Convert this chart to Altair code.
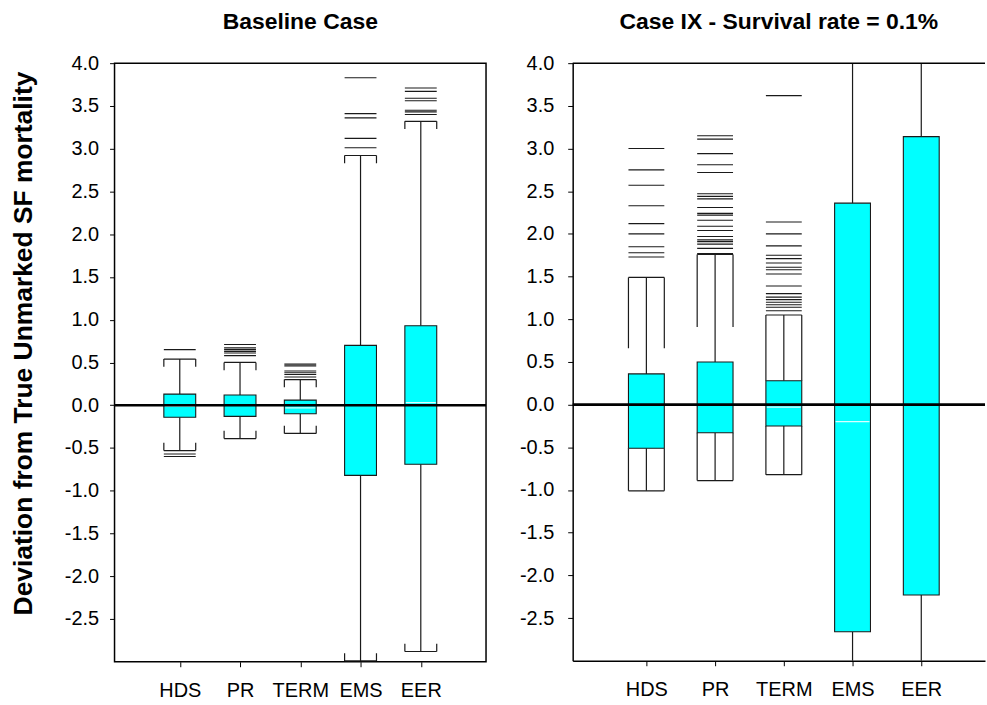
import json
import altair as alt
import pandas as pd

# ---- data -------------------------------------------------------------
categories = ["HDS", "PR", "TERM", "EMS", "EER"]

y_tick_values = [-2.5, -2.0, -1.5, -1.0, -0.5, 0.0, 0.5, 1.0, 1.5, 2.0, 2.5, 3.0, 3.5, 4.0]
y_domain = [-3.0, 4.0]
reference_value = [0.0]

# Baseline case
base_q1 = [-0.14, -0.13, -0.10, -0.82, -0.69]
base_q3 = [0.13, 0.12, 0.06, 0.70, 0.93]
base_median = [-0.01, 0.00, -0.03, 0.00, 0.03]
base_whisker_lo = [-0.53, -0.39, -0.33, -2.99, -2.88]
base_whisker_hi = [0.54, 0.50, 0.30, 2.92, 3.32]
base_bracket_lo = [-0.44, -0.30, -0.24, -2.90, -2.79]
base_bracket_hi = [0.45, 0.41, 0.21, 2.83, 3.23]
base_outliers = {
    "HDS": [0.65, -0.57, -0.60],
    "PR": [0.71, 0.67, 0.65, 0.63, 0.61, 0.58],
    "TERM": [0.48, 0.46, 0.40, 0.38, 0.36, 0.33],
    "EMS": [3.83, 3.41, 3.36, 3.12, 3.01],
    "EER": [3.71, 3.67, 3.59, 3.56, 3.45, 3.43, 3.40],
}

# Case IX - survival rate 0.1%
case9_q1 = [-0.51, -0.33, -0.25, -2.66, -2.23]
case9_q3 = [0.36, 0.50, 0.28, 2.36, 3.14]
case9_median = [0.00, 0.00, -0.03, -0.20, 0.00]
case9_whisker_lo = [-1.01, -0.89, -0.82, -3.40, -3.40]
case9_whisker_hi = [1.49, 1.76, 1.05, 4.40, 4.40]
case9_bracket_lo = [-0.51, -0.33, -0.25, -3.40, -3.40]
case9_bracket_hi = [0.66, 0.91, 0.28, 4.40, 4.40]
case9_outliers = {
    "HDS": [3.00, 2.75, 2.57, 2.33, 2.12, 2.00, 1.85, 1.78, 1.73],
    "PR": [3.15, 3.11, 2.94, 2.81, 2.72, 2.47, 2.44, 2.41, 2.31, 2.24,
           2.22, 2.16, 2.09, 2.04, 1.97, 1.93, 1.91, 1.88, 1.83, 1.77],
    "TERM": [3.62, 2.14, 2.00, 1.86, 1.75, 1.71, 1.66, 1.61, 1.58, 1.53,
             1.39, 1.30, 1.26, 1.23, 1.20, 1.17, 1.14, 1.10],
    "EMS": [],
    "EER": [],
}

FONT = "Liberation Sans"
BOX_FILL = "#00FFFF"
INK = "#1a1a1a"


def panel(title, q1, q3, med, wlo, whi, blo, bhi, outliers,
          plot_w, plot_h, x_max, box_w, y_title, framed, label_pad_y):
    pos = list(range(1, len(categories) + 1))
    stats = pd.DataFrame({
        "pos": pos, "cat": categories, "q1": q1, "q3": q3, "med": med,
        "wlo": wlo, "whi": whi, "blo": blo, "bhi": bhi,
    })
    out_rows = [
        {"pos": pos[categories.index(c)], "val": v}
        for c in categories for v in outliers.get(c, [])
    ]
    out_df = pd.DataFrame(out_rows, columns=["pos", "val"])
    ref_df = pd.DataFrame({"ref": reference_value})

    label_expr = f"{json.dumps(categories)}[datum.value - 1]"
    x_scale = alt.Scale(domain=[0, x_max], nice=False, zero=False)
    y_scale = alt.Scale(domain=y_domain, nice=False, zero=False)

    x_axis = alt.Axis(
        values=pos, labelExpr=label_expr, title=None, grid=False,
        domain=not framed, domainColor="black", domainWidth=1.5,
        tickSize=5, tickColor="black", tickWidth=1,
        labelFontSize=20, labelColor="black", labelFont=FONT, labelPadding=14,
    )
    y_axis_kwargs = dict(
        values=y_tick_values,
        labelExpr="replace(format(datum.value, '.1f'), '\u2212', '-')",
        grid=False, domain=not framed, domainColor="black", domainWidth=1.5,
        tickSize=5, tickColor="black", tickWidth=1,
        labelFontSize=20, labelColor="black", labelFont=FONT,
        labelPadding=label_pad_y,
    )
    if y_title:
        y_axis = alt.Axis(title=y_title, titleFontSize=26.5, titleFont=FONT,
                          titleFontWeight="bold", titleColor="black",
                          titlePadding=27, titleY=281, **y_axis_kwargs)
    else:
        y_axis = alt.Axis(title=None, **y_axis_kwargs)

    def X():
        return alt.X("pos:Q", scale=x_scale, axis=x_axis)

    def Y(field):
        return alt.Y(f"{field}:Q", scale=y_scale, axis=y_axis)

    base = alt.Chart(stats)
    half = box_w / 2.0

    whisker_lo = base.mark_rule(color=INK, strokeWidth=1.2, clip=True).encode(
        x=X(), y=Y("wlo"), y2="q1")
    whisker_hi = base.mark_rule(color=INK, strokeWidth=1.2, clip=True).encode(
        x=X(), y=Y("q3"), y2="whi")

    brackets = []
    for off in (-half, half):
        brackets.append(base.mark_rule(color=INK, strokeWidth=1.2, xOffset=off, clip=True)
                        .encode(x=X(), y=Y("wlo"), y2="blo"))
        brackets.append(base.mark_rule(color=INK, strokeWidth=1.2, xOffset=off, clip=True)
                        .encode(x=X(), y=Y("bhi"), y2="whi"))

    cap_lo = base.mark_tick(orient="horizontal", size=box_w, thickness=1.2,
                            color=INK, opacity=1, clip=True).encode(x=X(), y=Y("wlo"))
    cap_hi = base.mark_tick(orient="horizontal", size=box_w, thickness=1.2,
                            color=INK, opacity=1, clip=True).encode(x=X(), y=Y("whi"))

    outlier_marks = alt.Chart(out_df).mark_tick(
        orient="horizontal", size=box_w, thickness=1.1, color=INK, opacity=1, clip=True
    ).encode(x=X(), y=Y("val"))

    boxes = base.mark_bar(width=box_w, fill=BOX_FILL, stroke=INK, strokeWidth=1.1,
                          clip=True).encode(x=X(), y=Y("q1"), y2="q3")
    medians = base.mark_tick(orient="horizontal", size=box_w - 2, thickness=1.3,
                             color="#d9ffff", opacity=1, clip=True).encode(x=X(), y=Y("med"))

    zero_line = alt.Chart(ref_df).mark_rule(color="black", strokeWidth=2.6).encode(y=Y("ref"))

    layers = [whisker_lo, whisker_hi, *brackets, cap_lo, cap_hi, outlier_marks,
              boxes, medians, zero_line]
    if not framed:
        # top edge of the plot frame (the right edge runs off the page)
        top_edge = alt.Chart(ref_df).mark_rule(color="black", strokeWidth=1.5).encode(
            y=alt.value(0))
        layers.append(top_edge)

    chart = alt.layer(*layers).properties(
        width=plot_w, height=plot_h,
        title=alt.TitleParams(title, fontSize=23, font=FONT, fontWeight="bold",
                              color="black", anchor="middle", offset=19),
    )
    if framed:
        chart = chart.properties(view=alt.ViewBackground(stroke="black", strokeWidth=1.5))
    return chart


left = panel("Baseline Case", base_q1, base_q3, base_median, base_whisker_lo,
             base_whisker_hi, base_bracket_lo, base_bracket_hi, base_outliers,
             plot_w=373, plot_h=601, x_max=6.0, box_w=32,
             y_title="Deviation from True Unmarked SF mortality", framed=True,
             label_pad_y=11)
right = panel("Case IX - Survival rate = 0.1%", case9_q1, case9_q3, case9_median,
              case9_whisker_lo, case9_whisker_hi, case9_bracket_lo, case9_bracket_hi,
              case9_outliers, plot_w=414, plot_h=600, x_max=5.855, box_w=36,
              y_title=None, framed=False, label_pad_y=14)

chart = alt.hconcat(left, right, spacing=30).properties(
    padding={"left": 9, "top": 9, "right": 0, "bottom": 0}
).configure(font=FONT).configure_view(stroke=None)

chart.save("out.html", embed_options={"renderer": "svg", "actions": False})
